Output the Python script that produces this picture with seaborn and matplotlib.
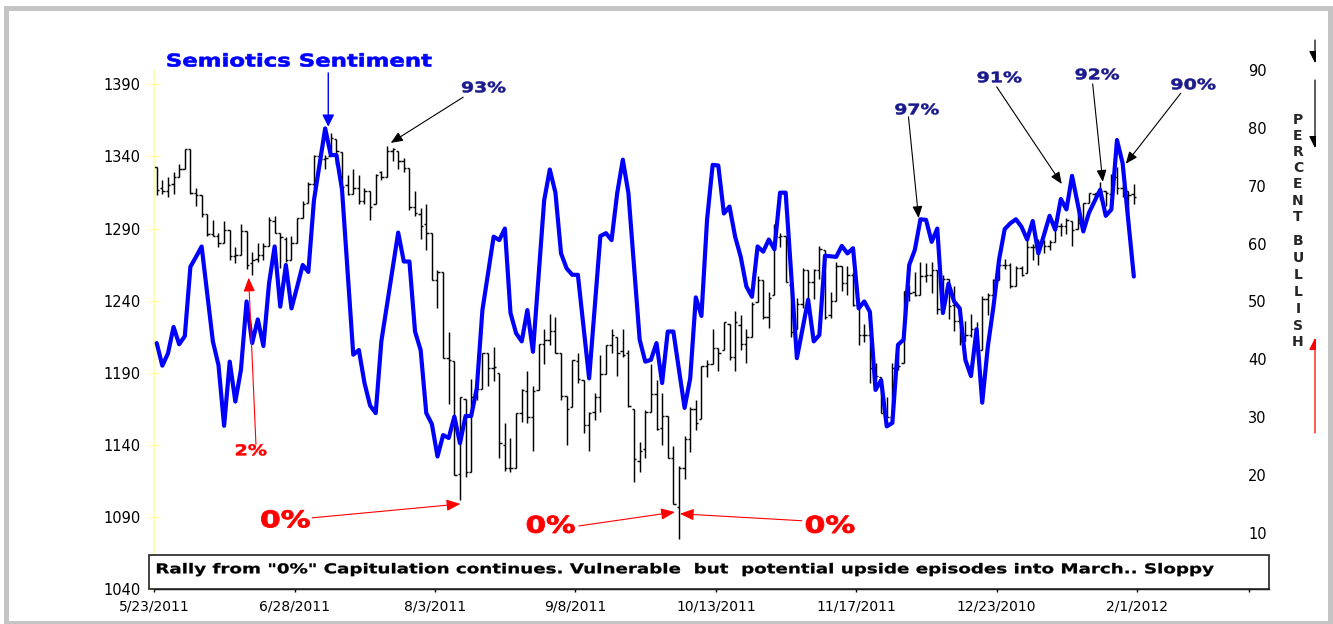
import numpy as np
import matplotlib
matplotlib.use("Agg")
import matplotlib.pyplot as plt
from matplotlib.patches import Rectangle, PathPatch
from matplotlib.textpath import TextPath
from matplotlib.font_manager import FontProperties
from matplotlib.transforms import Affine2D, Bbox, TransformedBbox, IdentityTransform
import seaborn as sns

# -------------------
# Data (S&P 500 daily bars + sentiment, 5/23/2011 - 1/31/2012)
# -------------------
opens = [1333, 1318, 1316, 1321, 1326, 1331, 1345, 1315, 1313, 1300,
         1286, 1285, 1280, 1289, 1271, 1272, 1288, 1266, 1269, 1272,
         1278, 1295, 1287, 1283, 1268, 1280, 1297, 1308, 1321, 1340,
         1338, 1340, 1352, 1343, 1320, 1314, 1318, 1309, 1316, 1307,
         1329, 1326, 1344, 1344, 1337, 1332, 1305, 1300, 1293, 1287,
         1254, 1260, 1200, 1198, 1120, 1172, 1121, 1173, 1179, 1204,
         1193, 1190, 1140, 1124, 1124, 1162, 1177, 1159, 1178, 1210,
         1213, 1219, 1204, 1174, 1166, 1198, 1185, 1154, 1163, 1173,
         1189, 1209, 1215, 1205, 1204, 1165, 1129, 1137, 1163, 1175,
         1152, 1160, 1131, 1097, 1124, 1144, 1165, 1158, 1195, 1196,
         1207, 1206, 1224, 1201, 1223, 1210, 1215, 1239, 1254, 1229,
         1244, 1284, 1285, 1251, 1220, 1238, 1261, 1253, 1261, 1275,
         1230, 1240, 1264, 1252, 1258, 1237, 1216, 1216, 1193, 1187,
         1161, 1159, 1193, 1197, 1247, 1246, 1244, 1257, 1258, 1261,
         1234, 1255, 1237, 1226, 1212, 1216, 1220, 1206, 1241, 1244,
         1254, 1265, 1265, 1250, 1263, 1259, 1277, 1277, 1281, 1278,
         1281, 1292, 1292, 1295, 1290, 1294, 1308, 1314, 1315, 1316,
         1314, 1326, 1318, 1316, 1314]
highs = [1333, 1324, 1326, 1329, 1335, 1345, 1345, 1318, 1313, 1300,
         1296, 1287, 1295, 1289, 1277, 1293, 1288, 1274, 1280, 1280,
         1298, 1299, 1287, 1284, 1285, 1297, 1309, 1322, 1341, 1341,
         1341, 1356, 1352, 1343, 1327, 1331, 1327, 1318, 1316, 1328,
         1330, 1347, 1346, 1344, 1339, 1332, 1316, 1304, 1307, 1287,
         1261, 1260, 1218, 1198, 1173, 1172, 1186, 1189, 1204, 1204,
         1208, 1190, 1155, 1145, 1162, 1179, 1191, 1181, 1210, 1220,
         1231, 1229, 1204, 1174, 1199, 1204, 1185, 1163, 1176, 1202,
         1209, 1220, 1215, 1220, 1206, 1165, 1142, 1164, 1196, 1185,
         1176, 1160, 1139, 1125, 1146, 1166, 1171, 1195, 1199, 1220,
         1207, 1225, 1224, 1233, 1230, 1220, 1239, 1257, 1254, 1246,
         1293, 1287, 1285, 1251, 1242, 1263, 1261, 1262, 1278, 1275,
         1246, 1267, 1264, 1264, 1260, 1238, 1224, 1216, 1197, 1187,
         1173, 1197, 1204, 1247, 1251, 1260, 1267, 1266, 1267, 1261,
         1258, 1255, 1250, 1226, 1226, 1231, 1225, 1243, 1245, 1255,
         1265, 1269, 1266, 1264, 1264, 1285, 1279, 1283, 1282, 1282,
         1296, 1294, 1297, 1295, 1303, 1308, 1315, 1315, 1322, 1316,
         1328, 1333, 1320, 1316, 1321]
lows = [1313, 1314, 1312, 1314, 1326, 1331, 1314, 1306, 1298, 1285,
        1285, 1277, 1280, 1268, 1266, 1272, 1262, 1258, 1267, 1268,
        1278, 1287, 1263, 1267, 1268, 1280, 1297, 1308, 1318, 1334,
        1331, 1340, 1334, 1316, 1313, 1314, 1307, 1307, 1296, 1307,
        1324, 1326, 1337, 1331, 1329, 1303, 1299, 1283, 1275, 1254,
        1235, 1200, 1168, 1119, 1102, 1118, 1121, 1171, 1179, 1181,
        1184, 1131, 1122, 1121, 1124, 1156, 1155, 1136, 1178, 1196,
        1209, 1204, 1171, 1140, 1166, 1183, 1148, 1136, 1157, 1163,
        1189, 1204, 1188, 1201, 1166, 1114, 1121, 1131, 1163, 1150,
        1140, 1131, 1099, 1075, 1116, 1135, 1150, 1158, 1187, 1196,
        1191, 1206, 1199, 1191, 1206, 1197, 1215, 1239, 1227, 1221,
        1244, 1277, 1253, 1215, 1220, 1235, 1239, 1241, 1255, 1227,
        1228, 1240, 1247, 1244, 1236, 1209, 1211, 1183, 1182, 1162,
        1159, 1159, 1192, 1197, 1240, 1243, 1244, 1253, 1245, 1231,
        1234, 1227, 1219, 1209, 1212, 1215, 1202, 1206, 1230, 1244,
        1254, 1262, 1249, 1250, 1257, 1259, 1268, 1265, 1273, 1275,
        1281, 1285, 1286, 1278, 1290, 1291, 1308, 1309, 1310, 1306,
        1308, 1314, 1312, 1300, 1307]
closes = [1317, 1316, 1320, 1326, 1331, 1345, 1315, 1313, 1300, 1286,
          1285, 1280, 1289, 1271, 1272, 1288, 1265, 1268, 1272, 1278,
          1296, 1287, 1284, 1268, 1280, 1297, 1307, 1321, 1340, 1338,
          1339, 1353, 1344, 1319, 1314, 1318, 1309, 1316, 1305, 1327,
          1326, 1344, 1345, 1337, 1332, 1305, 1301, 1292, 1287, 1254,
          1260, 1200, 1199, 1119, 1173, 1121, 1173, 1179, 1204, 1193,
          1194, 1141, 1124, 1124, 1162, 1178, 1159, 1177, 1210, 1213,
          1219, 1204, 1174, 1165, 1199, 1186, 1154, 1162, 1173, 1189,
          1209, 1216, 1204, 1202, 1167, 1130, 1136, 1163, 1175, 1151,
          1160, 1131, 1099, 1124, 1144, 1165, 1155, 1195, 1196, 1207,
          1204, 1225, 1201, 1225, 1210, 1215, 1238, 1254, 1229, 1242,
          1285, 1285, 1253, 1218, 1238, 1261, 1253, 1261, 1276, 1229,
          1240, 1264, 1252, 1258, 1237, 1216, 1216, 1193, 1188, 1162,
          1159, 1193, 1195, 1247, 1245, 1244, 1257, 1258, 1261, 1234,
          1255, 1236, 1226, 1212, 1216, 1220, 1205, 1241, 1244, 1254,
          1265, 1265, 1250, 1263, 1258, 1277, 1277, 1281, 1278, 1281,
          1292, 1292, 1296, 1289, 1294, 1308, 1315, 1315, 1316, 1315,
          1326, 1318, 1316, 1313, 1312]

# percent bullish (right axis)
sentiment = [42.8, 38.9, 41.0, 45.6, 42.6, 44.0, 56.0, 57.7, 59.5, 51.3,
             43.1, 39.0, 28.5, 39.6, 32.7, 38.2, 50.0, 42.8, 46.9, 42.3,
             53.1, 59.5, 49.1, 56.3, 48.8, 52.5, 56.3, 55.1, 67.5, 73.7,
             79.9, 75.3, 75.3, 69.3, 55.0, 40.8, 41.6, 35.9, 32.0, 30.7,
             43.1, 49.4, 55.6, 61.9, 56.9, 56.9, 44.8, 41.6, 30.7, 28.8,
             23.2, 26.9, 26.4, 30.1, 25.5, 30.2, 30.2, 35.0, 48.5, 54.8,
             61.2, 60.6, 62.6, 48.0, 44.5, 43.1, 48.5, 41.3, 54.4, 67.5,
             72.8, 68.8, 58.3, 55.7, 54.6, 54.6, 45.6, 36.7, 49.0, 61.3,
             61.8, 60.6, 68.7, 74.5, 68.7, 56.0, 43.4, 39.6, 39.9, 42.8,
             35.9, 44.8, 44.8, 38.2, 31.6, 36.7, 50.7, 47.5, 64.1, 73.6,
             73.5, 65.2, 66.4, 61.2, 57.7, 52.6, 50.8, 59.5, 58.6, 60.7,
             59.0, 68.8, 68.8, 54.5, 40.2, 45.2, 50.3, 43.1, 44.2, 57.9,
             57.8, 57.7, 59.6, 58.3, 59.2, 48.8, 50.0, 48.2, 34.7, 36.4,
             28.4, 29.0, 42.5, 43.4, 56.3, 58.9, 64.2, 64.1, 60.3, 62.6,
             48.0, 53.1, 50.0, 48.8, 39.9, 37.1, 45.2, 32.5, 42.2, 49.1,
             57.2, 62.5, 63.5, 64.2, 62.9, 60.7, 63.9, 58.3, 61.5, 64.8,
             62.4, 67.7, 65.9, 71.7, 66.9, 62.1, 65.3, 67.3, 69.3, 64.8,
             65.9, 77.9, 73.9, 64.1, 54.3]

tick_labels = ['5/23/2011', '6/28/2011', '8/3/2011', '9/8/2011',
               '10/13/2011', '11/17/2011', '12/23/2010', '2/1/2012']
left_ticks = [1040, 1090, 1140, 1190, 1240, 1290, 1340, 1390]
right_ticks = [10, 20, 30, 40, 50, 60, 70, 80, 90]

# -------------------
# Figure setup
# -------------------
sns.set_theme(style="white")
plt.rcParams['font.family'] = ['DejaVu Sans']

W, H = 1333, 624
fig = plt.figure(figsize=(W / 100, H / 100), dpi=100)
fig.patch.set_facecolor('white')

ax = fig.add_axes([154.3 / W, 1 - 589 / H, (1269 - 154.3) / W, (589 - 70) / H])
ax2 = ax.twinx()

x_pos = np.arange(len(closes)) + 0.43
ax.vlines(x_pos, lows, highs, color='black', lw=1.05)
ax.hlines(opens, x_pos - 0.42, x_pos, color='black', lw=1.05)
ax.hlines(closes, x_pos, x_pos + 0.42, color='black', lw=1.05)

s_pos = np.arange(len(sentiment)) + 0.43
sns.lineplot(x=s_pos, y=sentiment, ax=ax2, color='#0000FF', lw=3.0)

ax.set_xlim(0, 198.5)
ax.set_ylim(1040, 1400)
ax2.set_ylim(0.3, 90)

ax.set_xticks(range(0, 176, 25))
ax.set_xticklabels(tick_labels)
ax.set_xticks([195], minor=True)
ax.set_yticks(left_ticks)
ax2.set_yticks(right_ticks)
ax.set_xlabel('')
ax2.set_ylabel('')
ax2.set_xlabel('')

for s in ['top', 'right']:
    ax.spines[s].set_visible(False)
for s in ax2.spines.values():
    s.set_visible(False)
ax.spines['left'].set_color('#FFFFA8')
ax.spines['left'].set_linewidth(1.3)
ax.spines['bottom'].set_color('black')
ax.spines['bottom'].set_linewidth(1.0)

ax.tick_params(axis='x', which='both', direction='out', length=2.5, width=1,
               color='black', pad=5, labelsize=10, labelcolor='black', bottom=True)
ax.tick_params(axis='y', direction='inout', length=8, width=1, color='#FFFFA8',
               pad=6, labelsize=10.5, labelcolor='black', left=True)
ax2.tick_params(axis='y', length=0, pad=-15, labelsize=10.5, labelcolor='black')
ax.grid(False)
ax2.grid(False)

# -------------------
# Wide bold labels (glyph outlines stretched to the original widths)
# -------------------
BOLD = FontProperties(family='DejaVu Sans', weight='bold')
CAP = TextPath((0, 0), 'H', size=100, prop=BOLD).get_extents().height


def wide_text(s, x0, x1, baseline, cap, color, stroke=0.3):
    tp = TextPath((0, 0), s, size=100, prop=BOLD)
    bb = tp.get_extents()
    tr = (Affine2D().translate(-bb.x0, 0)
          .scale((x1 - x0) / bb.width, cap / CAP)
          .translate(x0, H - baseline))
    fig.add_artist(PathPatch(tp, transform=tr, facecolor=color,
                             edgecolor=color, lw=stroke, zorder=7))


navy = '#1a1a8c'
red = '#FF0000'
blue = '#0000FF'

wide_text('Semiotics Sentiment', 167.5, 431.5, 66.5, 12.8, blue, 0.45)
arrow_b = dict(arrowstyle='-|>,head_length=0.6,head_width=0.3', color=blue,
               lw=1.0, shrinkA=0, shrinkB=0, mutation_scale=12)
ax2.annotate('', xy=(30.98, 80.2), xytext=(30.98, 89.5), arrowprops=arrow_b,
             annotation_clip=False)

arrow_k = dict(arrowstyle='-|>,head_length=0.6,head_width=0.25', color='black',
               lw=0.8, shrinkA=0, shrinkB=0, mutation_scale=12)
arrow_r = dict(arrowstyle='-|>,head_length=0.6,head_width=0.25', color=red,
               lw=0.8, shrinkA=0, shrinkB=0, mutation_scale=14)

# (text, left px, right px, baseline px, arrow tail, arrow head in data units)
navy_labels = [
    ('93%', 462.0, 505.4, 92.3, (55.0, 85.3), (42.1, 77.4)),
    ('97%', 895.3, 938.7, 114.3, (134.3, 81.9), (136.1, 64.4)),
    ('91%', 977.6, 1021.4, 82.3, (150.0, 87.1), (161.6, 70.3)),
    ('92%', 1075.6, 1119.0, 79.3, (167.1, 87.6), (168.9, 70.65)),
    ('90%', 1171.3, 1215.4, 89.3, (182.8, 86.0), (173.0, 73.8)),
]
for txt, xl, xr, base, tail, head in navy_labels:
    wide_text(txt, xl, xr, base, 10.6, navy, 0.35)
    ax2.annotate('', xy=head, xytext=tail, arrowprops=arrow_k, annotation_clip=False)

wide_text('2%', 236.0, 266.4, 455.3, 10.9, red, 0.35)
ax2.annotate('', xy=(16.8, 54.1), xytext=(18.1, 25.3), arrowprops=arrow_r)

zero_labels = [
    (261.4, 309.6, 527.3, (28.1, 12.6), (54.5, 15.0)),
    (527.0, 574.6, 532.7, (75.6, 11.2), (92.7, 13.6)),
    (806.0, 854.3, 532.7, (115.3, 12.1), (93.6, 13.3)),
]
for xl, xr, base, tail, head in zero_labels:
    wide_text('0%', xl, xr, base, 16.8, red, 0.6)
    ax2.annotate('', xy=head, xytext=tail, arrowprops=arrow_r)

# comment box
fig.patches.append(Rectangle((149 / W, 1 - 589 / H), (1269 - 149) / W, 34 / H,
                             transform=fig.transFigure, facecolor='white',
                             edgecolor='#222222', lw=1.2, zorder=5))
wide_text('Rally from "0%" Capitulation continues. Vulnerable  but  potential upside episodes into March.. Sloppy',
          157.0, 1213.6, 573.3, 9.9, 'black', 0.2)

# vertical axis title on the right
for i, ch in enumerate('PERCENT'):
    fig.text(1298 / W, 1 - (120 + i * 16.1) / H, ch, fontsize=10, fontweight='bold',
             ha='center', va='center')
for i, ch in enumerate('BULLISH'):
    fig.text(1298 / W, 1 - (241 + i * 16.9) / H, ch, fontsize=10, fontweight='bold',
             ha='center', va='center')

# side arrows at right edge (heads cut at the frame)
edge_arrow = dict(arrowstyle='-|>,head_length=0.6,head_width=0.3', lw=0.9,
                  shrinkA=0, shrinkB=0, mutation_scale=12)
fig_arrows = [((1315, H - 40), (1315, H - 63), 'black'),
              ((1315, H - 80), (1315, H - 148), 'black'),
              ((1315, H - 433), (1315, H - 338), red)]
clip = TransformedBbox(Bbox([[0, 0], [1316, H]]), IdentityTransform())
for tail, head, c in fig_arrows:
    a = ax.annotate('', xy=head, xytext=tail, xycoords='figure pixels',
                    textcoords='figure pixels', arrowprops=dict(edge_arrow, color=c),
                    annotation_clip=False)
    a.arrow_patch.set_clip_box(clip)
    a.arrow_patch.set_clip_on(True)

# outer frame
fig.patches.append(Rectangle((5.8 / W, 1 - 623 / H), (1330.3 - 5.8) / W, (623 - 7.5) / H,
                             transform=fig.transFigure, fill=False,
                             edgecolor='#C4C4C4', lw=3.6, zorder=0))

fig.savefig('out.png', dpi=100, facecolor='white')
